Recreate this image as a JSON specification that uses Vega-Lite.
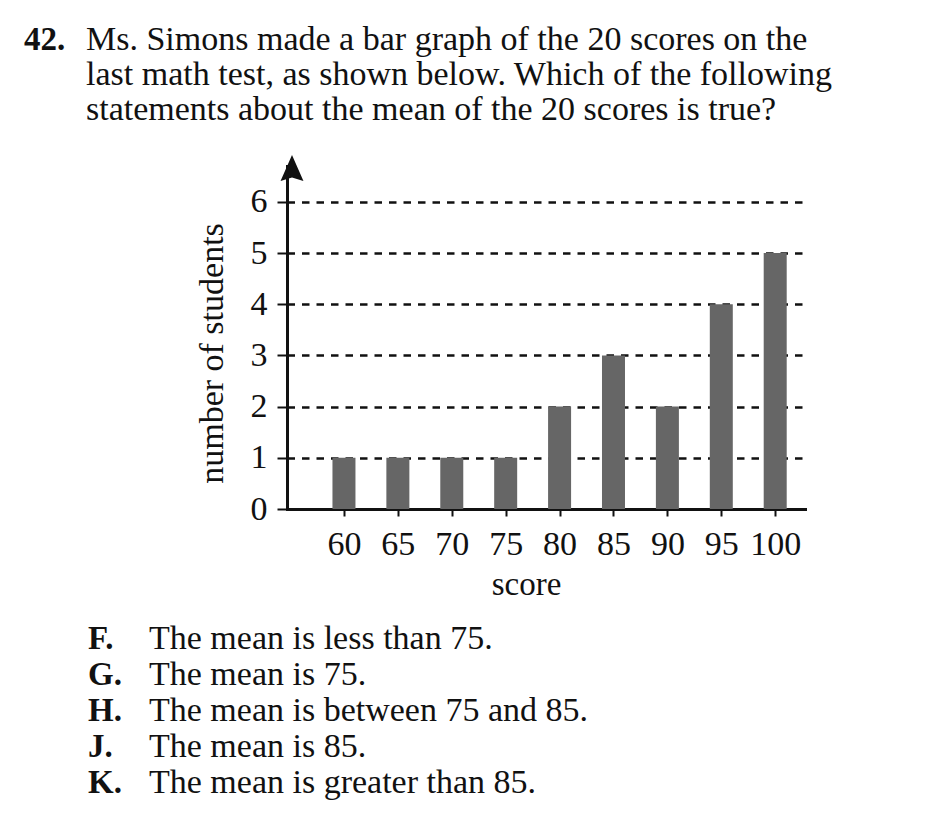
{
  "$schema": "https://vega.github.io/schema/vega-lite/v6.json",
  "padding": {"left": 24, "top": 22, "right": 10, "bottom": 10},
  "background": "white",
  "config": {
    "view": {"stroke": null},
    "font": "Liberation Serif",
    "text": {"font": "Liberation Serif", "color": "#111"},
    "axis": {"labelFont": "Liberation Serif", "titleFont": "Liberation Serif", "labelColor": "#111", "titleColor": "#111", "titleFontWeight": "normal", "labelFlush": false, "labelOverlap": false}
  },
  "datasets": {
    "question": [
      {"line": 1, "col": "num", "text": "42."},
      {"line": 1, "col": "text", "text": "Ms. Simons made a bar graph of the 20 scores on the"},
      {"line": 2, "col": "text", "text": "last math test, as shown below. Which of the following"},
      {"line": 3, "col": "text", "text": "statements about the mean of the 20 scores is true?"}
    ],
    "scores": [
      {"score": 60, "count": 1},
      {"score": 65, "count": 1},
      {"score": 70, "count": 1},
      {"score": 75, "count": 1},
      {"score": 80, "count": 2},
      {"score": 85, "count": 3},
      {"score": 90, "count": 2},
      {"score": 95, "count": 4},
      {"score": 100, "count": 5}
    ],
    "answers": [
      {"line": 1, "col": "letter", "text": "F."},
      {"line": 1, "col": "text", "text": "The mean is less than 75."},
      {"line": 2, "col": "letter", "text": "G."},
      {"line": 2, "col": "text", "text": "The mean is 75."},
      {"line": 3, "col": "letter", "text": "H."},
      {"line": 3, "col": "text", "text": "The mean is between 75 and 85."},
      {"line": 4, "col": "letter", "text": "J."},
      {"line": 4, "col": "text", "text": "The mean is 85."},
      {"line": 5, "col": "letter", "text": "K."},
      {"line": 5, "col": "text", "text": "The mean is greater than 85."}
    ]
  },
  "bounds": "flush",
  "spacing": 29,
  "vconcat": [
    {
      "width": 518,
      "height": 105,
      "data": {"name": "question"},
      "encoding": {
        "x": {"field": "col", "type": "nominal", "axis": null, "scale": {"type": "point", "domain": ["num", "text"], "range": [-263, -201], "padding": 0}},
        "y": {"field": "line", "type": "ordinal", "axis": null, "scale": {"domain": [1, 2, 3]}},
        "text": {"field": "text"}
      },
      "layer": [
        {"transform": [{"filter": "datum.col === 'num'"}], "mark": {"type": "text", "align": "left", "baseline": "alphabetic", "fontSize": 33, "fontWeight": "bold"}},
        {"transform": [{"filter": "datum.col === 'text'"}], "mark": {"type": "text", "align": "left", "baseline": "alphabetic", "fontSize": 34}}
      ]
    },
    {
      "width": 518,
      "height": 343,
      "layer": [
        {
          "data": {"name": "scores"},
          "mark": {"type": "bar", "width": 23, "color": "#666666"},
          "encoding": {
            "x": {
              "field": "score", "type": "quantitative",
              "scale": {"domain": [55.18, 102.3], "nice": false, "zero": false},
              "axis": {"values": [60, 65, 70, 75, 80, 85, 90, 95, 100], "title": "score", "titleFontSize": 33, "titlePadding": 7, "titleX": 239, "labelFontSize": 34, "labelPadding": 11, "tickSize": 7, "tickWidth": 2, "tickColor": "#111", "domainWidth": 3, "domainColor": "#111", "domainCap": "square", "grid": false}
            },
            "y": {
              "field": "count", "type": "quantitative",
              "scale": {"domain": [0, 6.7], "nice": false},
              "axis": {"values": [0, 1, 2, 3, 4, 5, 6], "title": "number of students", "titleFontSize": 34, "titlePadding": 21, "titleY": 187, "labelFontSize": 34, "labelPadding": 10, "tickSize": 10, "tickWidth": 2, "tickColor": "#111", "domainWidth": 3, "domainColor": "#111", "domainCap": "square", "grid": true, "gridDash": [7.5, 7], "gridWidth": 2.5, "gridColor": "#111"}
            }
          }
        },
        {
          "data": {"values": [{}]},
          "mark": {"type": "point", "shape": "M0,-1L-0.88,1L0,0.72L0.88,1Z", "size": 676, "filled": true, "color": "#111", "opacity": 1},
          "encoding": {
            "x": {"datum": 55.18, "type": "quantitative"},
            "y": {"datum": 6.66, "type": "quantitative"}
          }
        }
      ]
    },
    {
      "width": 518,
      "height": 256,
      "data": {"name": "answers"},
      "encoding": {
        "x": {"field": "col", "type": "nominal", "axis": null, "scale": {"type": "point", "domain": ["letter", "text"], "range": [-199, -138], "padding": 0}},
        "y": {"field": "line", "type": "ordinal", "axis": null, "scale": {"type": "point", "domain": [1, 2, 3, 4, 5], "range": [111, 254.6], "padding": 0}},
        "text": {"field": "text"}
      },
      "layer": [
        {"transform": [{"filter": "datum.col === 'letter'"}], "mark": {"type": "text", "align": "left", "baseline": "alphabetic", "fontSize": 33, "fontWeight": "bold"}},
        {"transform": [{"filter": "datum.col === 'text'"}], "mark": {"type": "text", "align": "left", "baseline": "alphabetic", "fontSize": 34}}
      ]
    }
  ]
}
